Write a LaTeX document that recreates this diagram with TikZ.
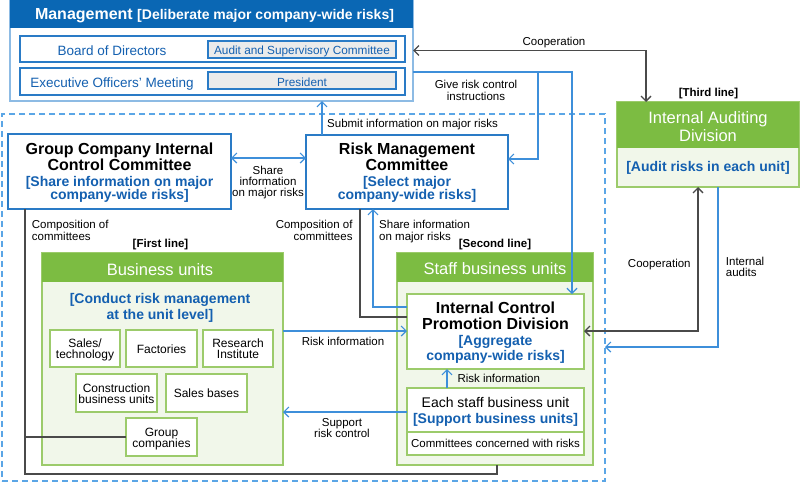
\documentclass[tikz,border=0pt]{standalone}
\usepackage{fontspec}
\setmainfont{Liberation Sans}
\usetikzlibrary{arrows.meta,calc}
\definecolor{hdrblue}{HTML}{0A67B4}
\definecolor{tblue}{HTML}{1460B0}
\definecolor{lblue}{HTML}{3E8FDA}
\definecolor{bblue}{HTML}{2A7BC6}
\definecolor{mblue}{HTML}{8DBBE4}
\definecolor{dblue}{HTML}{5BA6E6}
\definecolor{ggreen}{HTML}{7CBC42}
\definecolor{gborder}{HTML}{9CCB6B}
\definecolor{gfill}{HTML}{F1F7EA}
\definecolor{lgray}{HTML}{EBEBEB}
\definecolor{dgray}{HTML}{4A4A4A}
\newcommand{\fsz}[1]{\fontsize{#1}{#1}\selectfont}
\tikzset{
  rect/.style={inner sep=0, outer sep=0, anchor=north west},
  bluebox/.style={rect, draw=bblue, line width=1.2pt, fill=white},
  greenbox/.style={rect, draw=gborder, line width=1.2pt, fill=white},
  greenpanel/.style={rect, draw=gborder, line width=1.2pt, fill=gfill},
  greenhdr/.style={rect, fill=ggreen},
  tip/.style={Straight Barb[length=5pt,width=10pt]},
  bline/.style={draw=lblue, line width=1.2pt, arrows={-}, >={Straight Barb[length=5pt,width=10pt]}},
  gline/.style={draw=dgray, line width=1.3pt, >={Straight Barb[length=5pt,width=10pt]}},
  tx/.style={inner sep=0, anchor=base},
  lab/.style={inner sep=0, anchor=base, font=\fsz{11.5}},
  titleb/.style={inner sep=0, anchor=base, font=\fsz{16}\bfseries},
  bluet/.style={inner sep=0, anchor=base, font=\fsz{14}\bfseries, text=tblue},
  hdrt/.style={inner sep=0, anchor=base, font=\fsz{16.5}, text=white},
  smallt/.style={inner sep=0, anchor=base, font=\fsz{12}},
}
\begin{document}
\begin{tikzpicture}[x=1pt,y=-1pt]
\useasboundingbox (0,0) rectangle (800,483);

% ---------- Management ----------
\node[rect, draw=mblue, line width=1.5pt, fill=white, minimum width=403pt, minimum height=101pt] (mgmt) at (10,0) {};
\node[rect, fill=hdrblue, minimum width=403pt, minimum height=28pt] (mgmthdr) at (10,0) {};
\node[tx, text=white] (mgmtt) at (214.5,19.5) {\fsz{16}\bfseries Management \fsz{14}[Deliberate major company-wide risks]};
\node[bluebox, minimum width=385pt, minimum height=26pt] (row1) at (20,36) {};
\node[bluebox, minimum width=385pt, minimum height=27pt] (row2) at (20,68) {};
\node[rect, draw=bblue, line width=1.2pt, fill=lgray, minimum width=188pt, minimum height=17pt] (audit) at (208,41) {};
\node[rect, draw=bblue, line width=1.2pt, fill=lgray, minimum width=188pt, minimum height=17pt] (pres) at (208,72) {};
\node[tx, font=\fsz{13.5}, text=tblue] (bodt) at (112,55) {Board of Directors};
\node[tx, font=\fsz{13.5}, text=tblue] (eomt) at (112,87) {Executive Officers’ Meeting};
\node[tx, font=\fsz{11.8}, text=tblue] (auditt) at (302,54.3) {Audit and Supervisory Committee};
\node[tx, font=\fsz{11.8}, text=tblue] (prest) at (302,86) {President};

% ---------- dashed frame ----------
\node[rect, draw=dblue, line width=1.2pt, dash pattern=on 6pt off 4pt, minimum width=603pt, minimum height=367pt] (frame) at (2,114) {};

% ---------- committees ----------
\node[bluebox, minimum width=223pt, minimum height=75pt] (gcicc) at (8,134) {};
\node[titleb] (gc1) at (119.5,154.3) {Group Company Internal};
\node[titleb] (gc2) at (119.5,170) {Control Committee};
\node[bluet] (gc3) at (119.5,186.7) {[Share information on major};
\node[bluet] (gc4) at (119.5,199.5) {company-wide risks]};

\node[bluebox, minimum width=202pt, minimum height=74pt] (rmc) at (306,135) {};
\node[titleb] (rm1) at (407,154.3) {Risk Management};
\node[titleb] (rm2) at (407,170) {Committee};
\node[bluet] (rm3) at (407,186.7) {[Select major};
\node[bluet] (rm4) at (407,199.5) {company-wide risks]};

% ---------- Internal Auditing Division ----------
\node[greenpanel, minimum width=182pt, minimum height=85pt] (iad) at (617,102) {};
\node[greenhdr, minimum width=182pt, minimum height=46pt] (iadhdr) at (617,102) {};
\node[hdrt] (ia1) at (708,123.3) {Internal Auditing};
\node[hdrt] (ia2) at (708,141.7) {Division};
\node[bluet] (ia3) at (708,171.7) {[Audit risks in each unit]};
\node[tx, font=\fsz{11.5}\bfseries] (third) at (708.5,96) {[Third line]};

% ---------- Business units ----------
\node[greenpanel, minimum width=241pt, minimum height=212pt] (bu) at (42,253) {};
\node[greenhdr, minimum width=241pt, minimum height=29pt] (buhdr) at (42,253) {};
\node[hdrt] (bu1) at (160,275) {Business units};
\node[bluet] (bu2) at (160,303.3) {[Conduct risk management};
\node[bluet] (bu3) at (160,319.5) {at the unit level]};
\node[tx, font=\fsz{11.5}\bfseries] (first) at (160.5,247.7) {[First line]};

\node[greenbox, minimum width=70pt, minimum height=37pt] (sales) at (50,330) {};
\node[greenbox, minimum width=71pt, minimum height=37pt] (fact) at (126,330) {};
\node[greenbox, minimum width=70pt, minimum height=37pt] (res) at (203,330) {};
\node[greenbox, minimum width=81pt, minimum height=38pt] (cons) at (76,374) {};
\node[greenbox, minimum width=81pt, minimum height=38pt] (sbases) at (166,374) {};
\node[greenbox, minimum width=71pt, minimum height=38pt] (grp) at (126,418) {};
\node[smallt] (sa1) at (85,347.5) {Sales/};
\node[smallt] (sa2) at (85,358.5) {technology};
\node[smallt] (fa1) at (161.5,353) {Factories};
\node[smallt] (re1) at (238,347.5) {Research};
\node[smallt] (re2) at (238,358.5) {Institute};
\node[smallt] (co1) at (116.5,392.5) {Construction};
\node[smallt] (co2) at (116.5,403.5) {business units};
\node[smallt] (sb1) at (206.5,397.5) {Sales bases};
\node[smallt] (gr1) at (161.5,436.5) {Group};
\node[smallt] (gr2) at (161.5,447) {companies};

% ---------- Staff business units ----------
\node[greenpanel, minimum width=196pt, minimum height=212pt] (sbu) at (397,253) {};
\node[greenhdr, minimum width=196pt, minimum height=29pt] (sbuhdr) at (397,253) {};
\node[hdrt] (sbut) at (495,274.3) {Staff business units};
\node[tx, font=\fsz{11.5}\bfseries] (second) at (495,247.7) {[Second line]};
\node[greenbox, minimum width=177pt, minimum height=75pt] (icpd) at (407,294) {};
\node[titleb] (ic1) at (495.5,313.3) {Internal Control};
\node[titleb] (ic2) at (495.5,329) {Promotion Division};
\node[bluet] (ic3) at (495.5,345.5) {[Aggregate};
\node[bluet] (ic4) at (495.5,360) {company-wide risks]};
\node[greenbox, minimum width=177pt, minimum height=44pt] (esbu) at (407,388) {};
\node[greenbox, minimum width=177pt, minimum height=23pt] (comm) at (407,432) {};
\node[tx, font=\fsz{14}] (es1) at (495.5,407.3) {Each staff business unit};
\node[bluet] (es2) at (495.5,423.3) {[Support business units]};
\node[lab] (cm1) at (495.5,447.3) {Committees concerned with risks};

% ---------- connectors ----------
% Cooperation (management <-> IAD)
\draw[gline, <->] (mgmt.east) -| ($(iad.north west)+(29,0)$);
\node[lab] (coop1) at (554,45) {Cooperation};

% Give risk control instructions
\coordinate (gi0) at ($(mgmt.north east)+(0,72)$);
\coordinate (gi1) at ($(rmc.north east)+(30,24)$);
\coordinate (gi2) at ($(icpd.north west)+(165,0)$);
\draw[bline, ->] (gi0) -| (gi2);
\draw[bline, ->] (gi0) -| (gi1) -- (gi1 -| rmc.east);
\node[lab] (give1) at (476,88.3) {Give risk control};
\node[lab] (give2) at (476,100) {instructions};

% Submit information on major risks
\coordinate (su0) at ($(rmc.north west)+(16,0)$);
\draw[bline, ->] (su0) -- (su0 |- mgmt.south);
\node[lab, anchor=base west] (subt) at (327,127.3) {Submit information on major risks};

% Share information between committees
\coordinate (sh0) at ($(gcicc.north east)+(0,24)$);
\draw[bline, <->] (sh0) -- (sh0 -| rmc.west);
\node[lab] (sht1) at (268,174.3) {Share};
\node[lab] (sht2) at (268,185.7) {information};
\node[lab] (sht3) at (268,196.7) {on major risks};

% Composition of committees (left)
\coordinate (g1) at ($(gcicc.south west)+(17,0)$);
\coordinate (g2) at ($(sbu.south west)+(100,0)$);
\draw[gline] (g1) |- ($(g2)+(0,9)$) -- (g2);
\draw[gline] (grp.west) -- (grp.west -| g1);
\node[lab, anchor=base west] (cl1) at (31.7,228.3) {Composition of};
\node[lab, anchor=base west] (cl2) at (31.7,240) {committees};

% Composition of committees (right)
\coordinate (g3) at ($(rmc.south west)+(54,0)$);
\draw[gline] (g3) |- ($(icpd.north west)+(0,23)$);
\node[lab, anchor=base east] (cr1) at (352.7,228.3) {Composition of};
\node[lab, anchor=base east] (cr2) at (352.7,240) {committees};

% Share information on major risks (ICPD -> RMC)
\coordinate (b1) at ($(icpd.north west)+(0,13)$);
\draw[bline, ->] (b1) -| ($(rmc.south west)+(67,0)$);
\node[lab, anchor=base west] (si1) at (379,228.3) {Share information};
\node[lab, anchor=base west] (si2) at (379,240) {on major risks};

% Risk information (BU -> ICPD)
\coordinate (r1) at ($(bu.north east)+(0,78)$);
\draw[bline, ->] (r1) -- (r1 -| icpd.west);
\node[lab] (ri1) at (343,345.7) {Risk information};

% Support risk control (ESBU -> BU)
\coordinate (s2) at ($(esbu.north west)+(0,24)$);
\draw[bline, ->] (s2) -- (s2 -| bu.east);
\node[lab] (sr1) at (342,426.7) {Support};
\node[lab] (sr2) at (342,437.7) {risk control};

% Risk information (ESBU -> ICPD)
\coordinate (r2) at ($(esbu.north west)+(40,0)$);
\draw[bline, ->] (r2) -- (r2 |- icpd.south);
\node[lab, anchor=base west] (ri2) at (457.3,382.3) {Risk information};

% Cooperation (IAD <-> ICPD)
\coordinate (c2) at ($(iad.south west)+(81,0)$);
\draw[gline, <->] (c2) |- ($(icpd.north east)+(0,37)$);
\node[lab] (coop2) at (659.3,267.3) {Cooperation};

% Internal audits
\coordinate (c3) at ($(iad.south west)+(101,0)$);
\draw[bline, ->] (c3) |- ($(frame.north east)+(0,233)$);
\node[lab, anchor=base west] (ia4) at (725.7,265.3) {Internal};
\node[lab, anchor=base west] (ia5) at (725.7,276.7) {audits};
\end{tikzpicture}
\end{document}
